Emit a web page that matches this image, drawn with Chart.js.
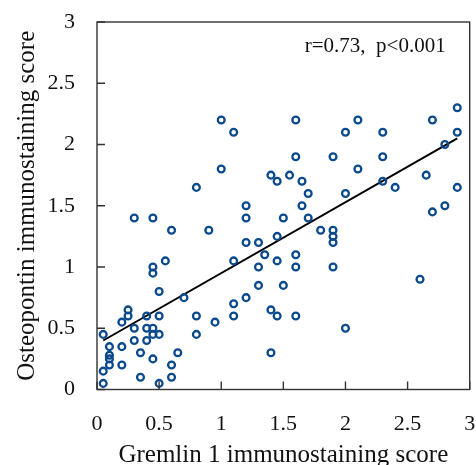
<!DOCTYPE html>
<html>
<head>
<meta charset="utf-8">
<script src="https://cdn.jsdelivr.net/npm/chart.js@4.4.0/dist/chart.umd.min.js"></script>
<style>
  html, body { margin: 0; padding: 0; background: #fff; }
  #wrap { width: 476px; height: 465px; }
</style>
</head>
<body>
<div id="wrap"><canvas id="chart" width="476" height="465"></canvas></div>
<script>
// Gremlin 1 score (x) and osteopontin score (y) per case
const gremlin = [
  0.3, 0.45, 0.6, 0.9, 0.55, 0.45, 0.45, 0.5, 0.7, 0.25,
  0.25, 0.2, 0.4, 0.5, 0.8, 0.3, 0.4, 0.45, 0.45, 0.5,
  0.05, 0.8, 0.3, 0.4, 0.1, 0.2, 0.1, 0.1, 0.1, 0.2,
  0.35, 0.65, 0.45, 0.6, 0.05, 0.35, 0.6, 0.05, 0.5,
  1.0, 1.6, 1.1, 1.6, 1.9, 1.0, 1.4, 1.45, 1.55, 1.65,
  1.7, 0.8, 1.2, 1.2, 1.65, 1.5, 1.7, 1.8, 1.9, 1.9,
  1.9, 1.2, 1.3, 1.45, 1.35, 1.1, 1.45, 1.6, 1.3, 1.6,
  1.9, 1.3, 1.5, 1.2, 1.1, 1.4, 1.45, 0.95, 1.1, 1.6, 1.4,
  2.9, 2.1, 2.7, 2.0, 2.3, 2.9, 2.8, 2.3, 2.1, 2.3,
  2.4, 2.65, 2.0, 2.9, 2.8, 2.7, 2.6, 2.0
];
const osteopontin = [
  1.4, 1.4, 1.3, 1.3, 1.05, 1.0, 0.95, 0.8, 0.75, 0.65,
  0.6, 0.55, 0.6, 0.6, 0.6, 0.5, 0.5, 0.5, 0.45, 0.45,
  0.45, 0.45, 0.4, 0.4, 0.35, 0.35, 0.28, 0.25, 0.2, 0.2,
  0.3, 0.3, 0.25, 0.2, 0.15, 0.1, 0.1, 0.05, 0.05,
  2.2, 2.2, 2.1, 1.9, 1.9, 1.8, 1.75, 1.7, 1.75, 1.7,
  1.6, 1.65, 1.5, 1.4, 1.5, 1.4, 1.4, 1.3, 1.3, 1.25,
  1.2, 1.2, 1.2, 1.25, 1.1, 1.05, 1.05, 1.1, 1.0, 1.0,
  1.0, 0.85, 0.85, 0.75, 0.7, 0.65, 0.6, 0.55, 0.6, 0.6, 0.3,
  2.3, 2.2, 2.2, 2.1, 2.1, 2.1, 2.0, 1.9, 1.8, 1.7,
  1.65, 1.75, 1.6, 1.65, 1.5, 1.45, 0.9, 0.5
];
// fitted regression line end points
const fitX = [0.05, 2.9];
const fitY = [0.40, 2.05];
const tickValues = [0, 0.5, 1, 1.5, 2, 2.5, 3];
const annotation = 'r=0.73,  p<0.001';

const FONT = '"Liberation Serif", "Times New Roman", serif';
const AXIS_COLOR = '#333';

const frame = {
  id: 'frame',
  afterDraw(chart) {
    const { ctx, chartArea: a, scales: { x, y } } = chart;
    ctx.save();
    ctx.strokeStyle = AXIS_COLOR;
    ctx.lineWidth = 1.4;
    ctx.strokeRect(a.left, a.top, a.right - a.left, a.bottom - a.top);
    // inward ticks on bottom and left only
    ctx.beginPath();
    tickValues.forEach(v => {
      const px = x.getPixelForValue(v);
      ctx.moveTo(px, a.bottom);
      ctx.lineTo(px, a.bottom - 8);
      const py = y.getPixelForValue(v);
      ctx.moveTo(a.left, py);
      ctx.lineTo(a.left + 8, py);
    });
    ctx.stroke();
    ctx.fillStyle = '#111';
    ctx.font = '21px ' + FONT;
    ctx.textAlign = 'right';
    ctx.textBaseline = 'middle';
    ctx.fillText(annotation, a.right - 24, a.top + 24);
    ctx.restore();
  }
};

function fitScale(size) {
  return s => {
    if (s.isHorizontal()) s.height = size; else s.width = size;
    s.paddingTop = 0; s.paddingBottom = 0;
    s.paddingLeft = 0; s.paddingRight = 0;
  };
}

new Chart(document.getElementById('chart'), {
  type: 'scatter',
  data: {
    datasets: [
      {
        data: gremlin.map((g, i) => ({ x: g, y: osteopontin[i] })),
        showLine: false,
        pointStyle: 'circle',
        pointRadius: 3.4,
        pointBorderWidth: 2.3,
        pointBorderColor: '#0a4a8c',
        pointBackgroundColor: 'rgba(255,255,255,0)'
      },
      {
        type: 'line',
        data: fitX.map((v, i) => ({ x: v, y: fitY[i] })),
        borderColor: '#000',
        borderWidth: 2,
        pointRadius: 0,
        fill: false
      }
    ]
  },
  options: {
    responsive: false,
    animation: false,
    layout: { padding: { top: 22, right: 5, left: 0, bottom: 0 } },
    plugins: { legend: { display: false }, tooltip: { enabled: false } },
    scales: {
      x: {
        type: 'linear',
        min: 0, max: 3,
        afterBuildTicks: s => { s.ticks = tickValues.map(v => ({ value: v })); },
        afterFit: fitScale(75.5),
        grid: { display: false, drawTicks: false },
        border: { display: false },
        ticks: { padding: 22, color: '#111', font: { family: FONT, size: 22 }, callback: v => String(v) },
        title: {
          display: true,
          text: 'Gremlin 1 immunostaining score',
          color: '#111',
          font: { family: FONT, size: 25, lineHeight: 1 },
          padding: { top: 0, bottom: -3 }
        }
      },
      y: {
        type: 'linear',
        min: 0, max: 3,
        afterBuildTicks: s => { s.ticks = tickValues.map(v => ({ value: v })); },
        afterFit: fitScale(97),
        grid: { display: false, drawTicks: false },
        border: { display: false },
        ticks: { padding: 22, color: '#111', font: { family: FONT, size: 22 }, callback: v => String(v) },
        title: {
          display: true,
          text: 'Osteopontin immunostaining score',
          color: '#111',
          font: { family: FONT, size: 25, lineHeight: 1 },
          padding: { top: 15, bottom: 0 }
        }
      }
    }
  },
  plugins: [frame]
});
</script>
</body>
</html>
